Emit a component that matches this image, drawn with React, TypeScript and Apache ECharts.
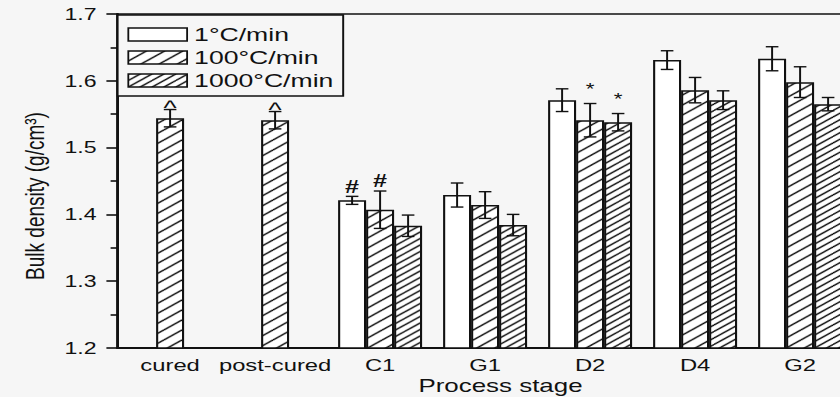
import React, { useEffect, useRef } from "react";
import * as echarts from "echarts";

const categories = ["cured", "post-cured", "C1", "G1", "D2", "D4", "G2"];
const seriesNames = ["1°C/min", "100°C/min", "1000°C/min"];
const rate1 = [null, null, 1.421, 1.429, 1.571, 1.631, 1.633];
const rate100 = [1.544, 1.541, 1.407, 1.414, 1.541, 1.586, 1.598];
const rate1000 = [null, null, 1.383, 1.384, 1.538, 1.571, 1.565];
const err1 = [null, null, 0.006, 0.018, 0.017, 0.014, 0.018];
const err100 = [0.013, 0.013, 0.028, 0.02, 0.025, 0.019, 0.023];
const err1000 = [null, null, 0.016, 0.016, 0.013, 0.014, 0.01];
// significance marks: [category, series index, symbol]
const marks: [string, number, string][] = [
  ["cured", 1, "^"],
  ["post-cured", 1, "^"],
  ["C1", 0, "#"],
  ["C1", 1, "#"],
  ["D2", 1, "*"],
  ["D2", 2, "*"],
];

const FONT = "Liberation Sans, Arial, sans-serif";
const STRETCH = 1.4; // the scanned figure is stretched horizontally
const INNER_W = 600;
const BG = "#f6f6f6";

// hatch tile: w x h pixels, n parallel "/" lines per tile
function hatch(w: number, h: number, n: number) {
  const c = document.createElement("canvas");
  c.width = w;
  c.height = h;
  const ctx = c.getContext("2d")!;
  ctx.fillStyle = "#ffffff";
  ctx.fillRect(0, 0, w, h);
  ctx.strokeStyle = "#000000";
  ctx.lineWidth = 1.3;
  const step = h / n;
  const slope = h / w;
  for (let k = -n - 1; k <= n + 1; k++) {
    const y0 = h + k * step;
    ctx.beginPath();
    ctx.moveTo(-2, y0 + 2 * slope);
    ctx.lineTo(w + 2, y0 - (w + 2) * slope);
    ctx.stroke();
  }
  return { image: c.toDataURL(), imageWidth: w, imageHeight: h, repeat: "repeat" };
}

export default function App() {
  const ref = useRef<HTMLDivElement>(null);
  useEffect(() => {
    if (!ref.current) return;
    const chart = echarts.init(ref.current, undefined, { renderer: "svg" });
    const values = [rate1, rate100, rate1000];
    const errs = [err1, err100, err1000];
    const errData: any[] = [];
    values.forEach((arr, s) => {
      arr.forEach((v, i) => {
        if (v != null) errData.push([i, v, errs[s][i], s]);
      });
    });
    const markData = marks.map(([c, s, t]) => {
      const i = categories.indexOf(c);
      return [i, (values[s][i] as number) + (errs[s][i] as number), s, t];
    });
    const fills: any[] = ["#ffffff", hatch(13, 10, 1), hatch(17, 13, 2)];
    const barSeries = seriesNames.map((name, s) => ({
      name,
      type: "bar",
      data: values[s],
      barGap: "0%",
      barCategoryGap: "20%",
      itemStyle: {
        color: fills[s],
        borderColor: "#111",
        borderWidth: 1.5,
      },
      z: 2,
    }));
    chart.setOption({
      animation: false,
      backgroundColor: BG,
      textStyle: { fontFamily: FONT, color: "#111" },
      grid: {
        left: 84,
        right: -9,
        top: 14,
        bottom: 49,
        outerBoundsMode: "none",
        containLabel: false,
        show: true,
        borderColor: "#111",
        borderWidth: 1.6,
        backgroundColor: "transparent",
      },
      legend: {
        orient: "vertical",
        left: 84,
        top: 15,
        data: seriesNames,
        borderColor: "#111",
        borderWidth: 1.4,
        padding: [10, 7, 6, 7],
        itemWidth: 42,
        itemHeight: 13,
        itemGap: 4,
        icon: "rect",
        itemStyle: { borderColor: "#111", borderWidth: 1.3 },
        textStyle: { fontSize: 19, lineHeight: 19, fontFamily: FONT, color: "#111" },
        backgroundColor: BG,
      },
      xAxis: {
        type: "category",
        data: categories,
        name: "Process stage",
        nameLocation: "middle",
        nameGap: 28,
        nameMoveOverlap: false,
        nameTextStyle: { fontSize: 18.5, color: "#111", padding: [0, 0, 0, 22] },
        axisLine: { lineStyle: { color: "#111", width: 2 } },
        axisTick: { alignWithLabel: true, length: 6, lineStyle: { width: 1.6, color: "#111" } },
        axisLabel: { fontSize: 17, color: "#111", margin: 8, interval: 0, hideOverlap: false },
      },
      yAxis: {
        type: "value",
        min: 1.2,
        max: 1.7,
        interval: 0.1,
        name: "Bulk density (g/cm³)",
        nameLocation: "middle",
        nameGap: 50,
        nameMoveOverlap: false,
        nameTextStyle: { fontSize: 19, color: "#111", padding: [0, 30, 0, 0] },
        splitLine: { show: false },
        axisLine: { show: true, lineStyle: { color: "#111", width: 2 } },
        axisTick: { show: true, length: 8, lineStyle: { width: 1.6, color: "#111" } },
        minorTick: { show: true, splitNumber: 2, length: 5, lineStyle: { width: 1.6, color: "#111" } },
        axisLabel: { fontSize: 16.5, color: "#111", margin: 15, formatter: (v: number) => v.toFixed(1) },
      },
      series: [
        ...barSeries,
        {
          type: "custom",
          data: errData,
          z: 5,
          silent: true,
          renderItem: (params: any, api: any) => {
            const cat = api.value(0);
            const v = api.value(1);
            const e = api.value(2);
            const s = api.value(3);
            const band = api.size([1, 0])[0];
            const bw = (band * 0.8) / 3;
            const x = api.coord([cat, v])[0] + (s - 1) * bw;
            const yt = api.coord([cat, v + e])[1];
            const yb = api.coord([cat, v - e])[1];
            const cap = 4.5;
            const st = { stroke: "#111", lineWidth: 1.4 };
            return {
              type: "group",
              children: [
                { type: "line", shape: { x1: x, y1: yt, x2: x, y2: yb }, style: st },
                { type: "line", shape: { x1: x - cap, y1: yt, x2: x + cap, y2: yt }, style: st },
                { type: "line", shape: { x1: x - cap, y1: yb, x2: x + cap, y2: yb }, style: st },
              ],
            };
          },
        },
        {
          type: "custom",
          data: markData,
          z: 6,
          silent: true,
          renderItem: (params: any, api: any) => {
            const cat = api.value(0);
            const v = api.value(1);
            const s = api.value(2);
            const t = markData[params.dataIndex][3];
            const band = api.size([1, 0])[0];
            const bw = (band * 0.8) / 3;
            const p = api.coord([cat, v]);
            const x = p[0] + (s - 1) * bw;
            const off = t === "*" ? 6 : t === "^" ? -8 : 1;
            return {
              type: "text",
              x,
              y: p[1] - off,
              style: {
                text: t,
                fontSize: t === "*" ? 16 : t === "^" ? 20 : 18,
                fontWeight: t === "#" ? "bold" : "normal",
                fontFamily: FONT,
                fill: "#111",
                align: "center",
                verticalAlign: "bottom",
              },
            };
          },
        },
      ],
    });
    return () => chart.dispose();
  }, []);
  return (
    <div style={{ position: "absolute", left: 0, top: 0, width: 840, height: 397, overflow: "hidden", background: BG }}>
      <div
        ref={ref}
        style={{ width: INNER_W, height: 397, transform: `scaleX(${STRETCH})`, transformOrigin: "0 0" }}
      />
    </div>
  );
}
